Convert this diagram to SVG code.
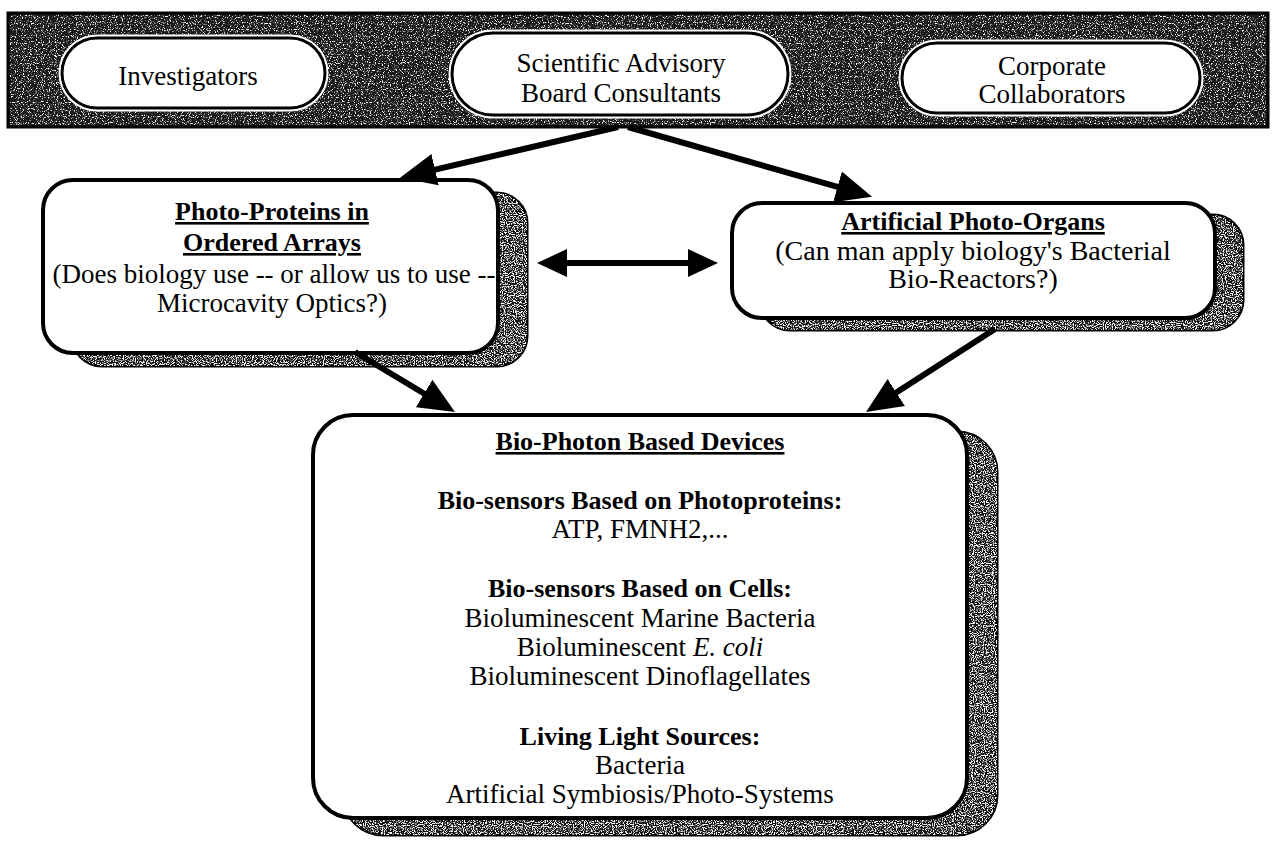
<svg xmlns="http://www.w3.org/2000/svg" width="1272" height="844" viewBox="0 0 1272 844">
<style>
text{font-family:"Liberation Serif","Times New Roman",serif;fill:#000;text-anchor:middle}
.tp{font-size:27px}
.t26{font-size:26px}
.t27{font-size:27px}
.t28{font-size:28px}
.b{font-weight:bold}
.u{text-decoration:underline}
.pillHalo{fill:none;stroke:#fff;stroke-width:7}
.pill{fill:#fff;stroke:#000;stroke-width:3}
.box{fill:#fff;stroke:#000;stroke-width:4}
.shadowBase{fill:#111;stroke:#000;stroke-width:3}
.conn{stroke:#000;stroke-width:6;fill:none}
</style>
<defs>
<filter id="spk" x="0" y="0" width="1" height="1">
<feTurbulence type="fractalNoise" baseFrequency="0.85" numOctaves="1" seed="7" result="n"/>
<feColorMatrix in="n" type="matrix" values="0 0 0 0 1  0 0 0 0 1  0 0 0 0 1  7 0 0 0 -3.8" result="w"/>
<feComposite in="w" in2="SourceAlpha" operator="in"/>
</filter>
<filter id="spk2" x="0" y="0" width="1" height="1">
<feTurbulence type="fractalNoise" baseFrequency="0.9" numOctaves="1" seed="11" result="n"/>
<feColorMatrix in="n" type="matrix" values="0 0 0 0 1  0 0 0 0 1  0 0 0 0 1  7 0 0 0 -3.3" result="w"/>
<feComposite in="w" in2="SourceAlpha" operator="in"/>
</filter>
<marker id="ah" markerWidth="30" markerHeight="30" refX="10" refY="15" orient="auto-start-reverse" markerUnits="userSpaceOnUse">
<path d="M0,1 L30,15 L0,29 z" fill="#000"/>
</marker>
<marker id="ahL" markerWidth="36" markerHeight="34" refX="12" refY="17" orient="auto" markerUnits="userSpaceOnUse">
<path d="M0,1 L36,17 L0,33 z" fill="#000"/>
</marker>
</defs>
<rect width="1272" height="844" fill="#fff"/>

<g id="banner">
<rect x="8" y="13" width="1260" height="114" fill="#1a1a1a" stroke="#000" stroke-width="3"/>
<rect x="10" y="15" width="1256" height="110" fill="#000" filter="url(#spk)"/>
</g>

<g id="investigators">
<rect class="pillHalo" x="62" y="38" width="263" height="70" rx="35"/>
<rect class="pill" x="62" y="38" width="263" height="70" rx="35"/>
<text class="tp" x="188" y="85">Investigators</text>
</g>

<g id="scientific-advisory">
<rect class="pillHalo" x="452" y="33" width="336" height="82" rx="41"/>
<rect class="pill" x="452" y="33" width="336" height="82" rx="41"/>
<text class="tp" x="621" y="72">Scientific Advisory</text>
<text class="tp" x="621" y="102">Board Consultants</text>
</g>

<g id="corporate">
<rect class="pillHalo" x="902" y="43" width="298" height="70" rx="35"/>
<rect class="pill" x="902" y="43" width="298" height="70" rx="35"/>
<text class="tp" x="1052" y="75">Corporate</text>
<text class="tp" x="1052" y="103">Collaborators</text>
</g>

<g id="photo-proteins">
<rect class="shadowBase" x="72" y="193" width="455" height="173" rx="30"/>
<rect x="72" y="193" width="455" height="173" rx="30" fill="#000" filter="url(#spk2)"/>
<rect class="box" x="43" y="180" width="455" height="173" rx="30"/>
<text class="t26 b u" x="272" y="220">Photo-Proteins in</text>
<text class="t26 b u" x="272" y="251">Ordered Arrays</text>
<text class="t27" x="274" y="283">(Does biology use -- or allow us to use --</text>
<text class="t27" x="272" y="312">Microcavity Optics?)</text>
</g>

<g id="photo-organs">
<rect class="shadowBase" x="760" y="215" width="483" height="115" rx="30"/>
<rect x="760" y="215" width="483" height="115" rx="30" fill="#000" filter="url(#spk2)"/>
<rect class="box" x="732" y="203" width="483" height="115" rx="30"/>
<text class="t26 b u" x="973" y="230">Artificial Photo-Organs</text>
<text class="t28" x="973" y="260">(Can man apply biology's Bacterial</text>
<text class="t28" x="973" y="288">Bio-Reactors?)</text>
</g>

<g id="bio-photon-devices">
<rect class="shadowBase" x="343" y="432" width="654" height="403" rx="40"/>
<rect x="343" y="432" width="654" height="403" rx="40" fill="#000" filter="url(#spk2)"/>
<rect class="box" x="313" y="415" width="654" height="403" rx="40"/>
<text class="t26 b u" x="640" y="450">Bio-Photon Based Devices</text>
<text class="t26 b" x="640" y="509">Bio-sensors Based on Photoproteins:</text>
<text class="t27" x="640" y="538">ATP, FMNH2,...</text>
<text class="t26 b" x="640" y="597">Bio-sensors Based on Cells:</text>
<text class="t27" x="640" y="627">Bioluminescent Marine Bacteria</text>
<text class="t27" x="640" y="656">Bioluminescent <tspan font-style="italic">E. coli</tspan></text>
<text class="t27" x="640" y="685">Bioluminescent Dinoflagellates</text>
<text class="t26 b" x="640" y="745">Living Light Sources:</text>
<text class="t27" x="640" y="774">Bacteria</text>
<text class="t27" x="640" y="803">Artificial Symbiosis/Photo-Systems</text>
</g>

<g id="connectors">
<line class="conn" x1="618" y1="127" x2="423.4" y2="172.4" marker-end="url(#ahL)"/>
<line class="conn" x1="628" y1="127" x2="849" y2="190.2" marker-end="url(#ahL)"/>
<line class="conn" x1="557" y1="263" x2="698" y2="263" marker-start="url(#ah)" marker-end="url(#ah)"/>
<line class="conn" x1="355" y1="352" x2="434.4" y2="399.7" marker-end="url(#ahL)"/>
<line class="conn" x1="995" y1="329" x2="886.2" y2="399" marker-end="url(#ahL)"/>
</g>
</svg>
